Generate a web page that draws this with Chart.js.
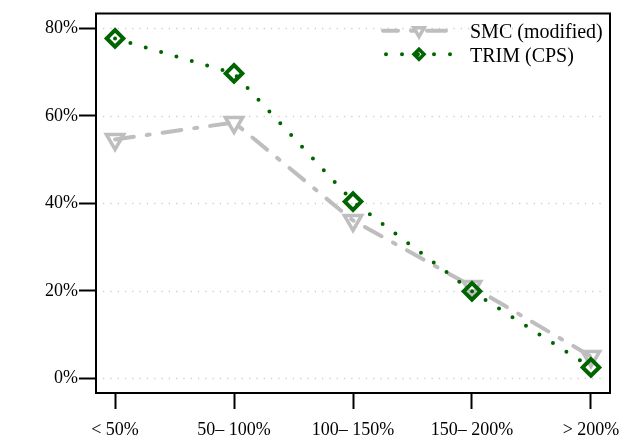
<!DOCTYPE html>
<html>
<head>
<meta charset="utf-8">
<script src="https://cdn.jsdelivr.net/npm/chart.js@4.4.0/dist/chart.umd.min.js"></script>
<style>
html,body{margin:0;padding:0;background:#fff;}
#wrap{width:627px;height:440px;}
</style>
</head>
<body>
<div id="wrap"><canvas id="c" width="627" height="440"></canvas></div>
<script>
const categories = ["< 50%", "50\u2013 100%", "100\u2013 150%", "150\u2013 200%", "> 200%"];
const smcValues = [54.6, 58.5, 36.1, 21.0, 5.0];
const trimValues = [77.7, 69.7, 40.4, 19.9, 2.5];
const yTicks = [0, 20, 40, 60, 80];
const seriesNames = ["SMC (modified)", "TRIM (CPS)"];

const GRAY = '#bebebe';
const GREEN = '#006400';
const FONT = '"Liberation Serif", "Times New Roman", serif';

const toXY = arr => arr.map((v, i) => ({x: i, y: v}));

const smcDash = [19, 13, 3, 13];
const trimDash = [0, 16];

const framePlugin = {
  id: 'frame',
  beforeDatasetsDraw(chart) {
    const {ctx, chartArea: a, scales} = chart;
    ctx.save();
    ctx.strokeStyle = '#cfcfcf';
    ctx.lineWidth = 1.3;
    ctx.setLineDash([1.3, 6]);
    yTicks.forEach(v => {
      const y = Math.round(scales.y.getPixelForValue(v)) + 0.5;
      ctx.beginPath();
      ctx.moveTo(a.left + 7, y);
      ctx.lineTo(a.right - 7, y);
      ctx.stroke();
    });
    ctx.restore();
  },
  afterDraw(chart) {
    const {ctx, chartArea: a} = chart;
    ctx.save();
    ctx.strokeStyle = '#000';
    ctx.lineWidth = 2;
    ctx.strokeRect(a.left, a.top, a.right - a.left, a.bottom - a.top);
    ctx.restore();

    // legend
    const x0 = 383, x1 = 453, mx = 419;
    const rows = [
      {y: 30.7, color: GRAY, dash: smcDash, style: 'triangle', rot: 180, r: 6, bw: 3.5},
      {y: 54.3, color: GREEN, dash: trimDash, style: 'rectRot', rot: 0, r: 5, bw: 3.5}
    ];
    rows.forEach((row, i) => {
      ctx.save();
      ctx.strokeStyle = row.color;
      ctx.lineWidth = 4;
      ctx.lineCap = 'round';
      ctx.setLineDash(row.dash);
      ctx.lineDashOffset = i === 0 ? 4 : -3;
      ctx.beginPath();
      ctx.moveTo(x0, row.y);
      ctx.lineTo(x1, row.y);
      ctx.stroke();
      ctx.setLineDash([]);
      ctx.lineJoin = 'miter';
      ctx.fillStyle = 'rgba(0,0,0,0)';
      ctx.strokeStyle = row.color;
      ctx.lineWidth = row.bw;
      Chart.helpers.drawPoint(ctx, {pointStyle: row.style, radius: row.r, rotation: row.rot, borderWidth: row.bw}, mx, row.y);
      ctx.restore();
      ctx.save();
      ctx.fillStyle = '#000';
      ctx.font = '20px ' + FONT;
      ctx.textBaseline = 'middle';
      ctx.textAlign = 'left';
      ctx.fillText(seriesNames[i], 470, row.y + 2);
      ctx.restore();
    });
  }
};

new Chart(document.getElementById('c'), {
  type: 'line',
  data: {
    datasets: [
      {
        label: seriesNames[0],
        data: toXY(smcValues),
        borderColor: GRAY,
        borderWidth: 4,
        borderDash: smcDash,
        borderCapStyle: 'round',
        pointStyle: 'triangle',
        pointRotation: 180,
        pointRadius: 10,
        pointBorderWidth: 3.5,
        pointBorderColor: GRAY,
        pointBackgroundColor: 'rgba(0,0,0,0)',
        tension: 0,
        fill: false,
        order: 2
      },
      {
        label: seriesNames[1],
        data: toXY(trimValues),
        borderColor: GREEN,
        borderWidth: 4,
        borderDash: trimDash,
        borderCapStyle: 'round',
        pointStyle: 'rectRot',
        pointRadius: 8.3,
        pointBorderWidth: 4,
        pointBorderColor: GREEN,
        pointBackgroundColor: 'rgba(0,0,0,0)',
        tension: 0,
        fill: false,
        order: 1
      }
    ]
  },
  options: {
    responsive: false,
    animation: false,
    devicePixelRatio: 1,
    layout: {padding: {top: 9.5, right: 17, left: 0, bottom: 0}},
    plugins: {legend: {display: false}, tooltip: {enabled: false}},
    scales: {
      x: {
        type: 'linear',
        min: -0.16,
        max: 4.16,
        afterBuildTicks: s => { s.ticks = categories.map((c, i) => ({value: i})); },
        afterFit: s => { s.height = 47; s.paddingLeft = 0; s.paddingRight = 0; },
        ticks: {
          callback: v => categories[v],
          font: {family: FONT, size: 18},
          color: '#000',
          padding: 10,
          maxRotation: 0,
          autoSkip: false
        },
        grid: {drawOnChartArea: false, drawTicks: true, tickLength: 16, tickColor: '#000', tickWidth: 2},
        border: {display: false}
      },
      y: {
        min: -3.35,
        max: 83.4,
        afterBuildTicks: s => { s.ticks = yTicks.map(v => ({value: v})); },
        afterFit: s => { s.width = 96; s.paddingTop = 0; s.paddingBottom = 0; },
        ticks: {
          callback: v => v + '%',
          font: {family: FONT, size: 18},
          color: '#000',
          padding: 1
        },
        grid: {drawOnChartArea: false, drawTicks: true, tickLength: 17, tickColor: '#000', tickWidth: 2},
        border: {display: false}
      }
    }
  },
  plugins: [framePlugin]
});
</script>
</body>
</html>
